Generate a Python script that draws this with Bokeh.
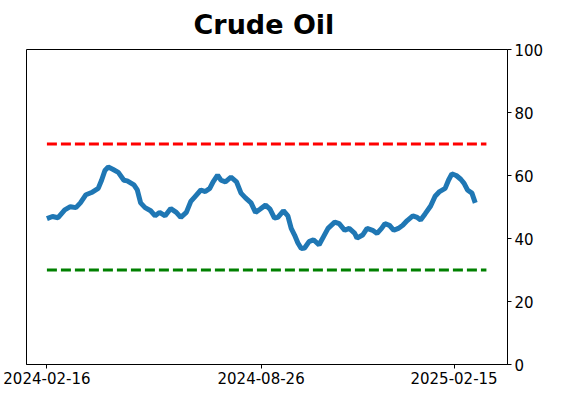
import pandas as pd
from bokeh.plotting import figure
from bokeh.models import Range1d, FixedTicker, DatetimeTickFormatter, ColumnDataSource
from bokeh.embed import file_html
from bokeh.resources import INLINE

# ---- data ----
start_date = "2024-02-16"
day_offsets = [0, 5, 10, 16, 21, 26, 30, 35, 40, 46, 49, 52, 55, 59, 64, 69, 72, 78,
               81, 84, 88, 93, 97, 101, 106, 111, 116, 120, 125, 129, 133, 138, 142,
               146, 149, 153, 156, 160, 165, 170, 174, 178, 183, 187, 191, 196, 200,
               204, 207, 212, 216, 219, 222, 225, 228, 231, 235, 239, 244, 248, 252,
               258, 262, 267, 271, 276, 278, 283, 287, 292, 296, 300, 303, 307, 311,
               315, 319, 323, 328, 332, 335, 339, 344, 348, 352, 357, 360, 363, 367,
               371, 374, 377, 381, 384]
values = [46.3, 47.0, 46.6, 49.1, 50.1, 49.8, 51.3, 53.9, 54.6, 55.9, 58.5, 61.6, 62.7,
          62.0, 61.0, 58.5, 58.3, 57.0, 55.4, 51.3, 49.8, 48.8, 47.2, 48.3, 47.2, 49.5,
          48.3, 46.7, 48.3, 51.8, 53.4, 55.4, 54.9, 55.9, 58.0, 60.1, 58.5, 58.0, 59.5,
          58.0, 54.4, 52.9, 51.3, 48.3, 49.3, 50.6, 49.3, 46.5, 46.7, 48.8, 47.2, 43.2,
          41.1, 38.6, 36.8, 37.0, 39.0, 39.6, 38.0, 40.6, 43.2, 45.2, 44.7, 42.6, 43.2,
          41.6, 40.1, 41.1, 43.2, 42.6, 41.6, 43.2, 44.7, 44.2, 42.6, 43.2, 44.2, 45.7,
          47.2, 46.7, 45.9, 47.8, 50.3, 53.4, 54.9, 55.9, 58.5, 60.5, 60.0, 58.8, 57.5,
          55.4, 54.4, 51.3]
threshold_days = [0, 394]
upper_level = 70
lower_level = 30
x_tick_labels = ["2024-02-16", "2024-08-26", "2025-02-15"]
y_ticks = [0, 20, 40, 60, 80, 100]
title_text = "Crude Oil"

# ---- build ----
t0 = pd.Timestamp(start_date)
dates = [t0 + pd.Timedelta(days=d) for d in day_offsets]
th_dates = [t0 + pd.Timedelta(days=d) for d in threshold_days]

def ms(ts):
    return ts.value / 1e6

x_start = ms(t0 - pd.Timedelta(days=18.3))
x_end = ms(t0 + pd.Timedelta(days=412.9))

FONT = "DejaVu Sans"

p = figure(width=546, height=386, x_axis_type="datetime", y_axis_location="right",
           x_range=Range1d(x_start, x_end), y_range=Range1d(0, 100),
           output_backend="svg", toolbar_location=None,
           min_border_left=26, min_border_top=48, min_border_bottom=0, min_border_right=0)

p.title.text = title_text
p.title.text_font = FONT
p.title.text_font_style = "bold"
p.title.text_font_size = "27px"
p.title.text_color = "black"
p.title.align = "left"
p.title.offset = 167
p.title.vertical_align = "top"
p.title.standoff = 16

p.xgrid.visible = False
p.ygrid.visible = False
p.outline_line_color = "black"
p.outline_line_width = 1
p.outline_line_alpha = 1
p.background_fill_color = "white"
p.border_fill_color = "white"

src = ColumnDataSource(dict(x=dates, y=values))
p.line("x", "y", source=src, line_color="#1f77b4", line_width=5)
p.line(th_dates, [upper_level] * 2, line_color="#ff0000", line_width=2.8, line_dash="10 4")
p.line(th_dates, [lower_level] * 2, line_color="#008000", line_width=2.8, line_dash="10 4")

xa = p.xaxis[0]
xa.ticker = FixedTicker(ticks=[ms(pd.Timestamp(s)) for s in x_tick_labels])
xa.formatter = DatetimeTickFormatter(days="%Y-%m-%d", months="%Y-%m-%d", years="%Y-%m-%d",
                                     hours="%Y-%m-%d", minutes="%Y-%m-%d", seconds="%Y-%m-%d",
                                     milliseconds="%Y-%m-%d", minsec="%Y-%m-%d", hourmin="%Y-%m-%d")
ya = p.yaxis[0]
ya.ticker = FixedTicker(ticks=y_ticks)

for ax in (xa, ya):
    ax.minor_tick_line_color = None
    ax.major_tick_out = 4
    ax.major_tick_in = 0
    ax.major_tick_line_color = "black"
    ax.axis_line_color = "black"
    ax.major_label_text_font = FONT
    ax.major_label_text_font_size = "15px"
    ax.major_label_text_color = "black"
    ax.major_label_standoff = 3

open("out.html", "w").write(file_html(p, INLINE))
